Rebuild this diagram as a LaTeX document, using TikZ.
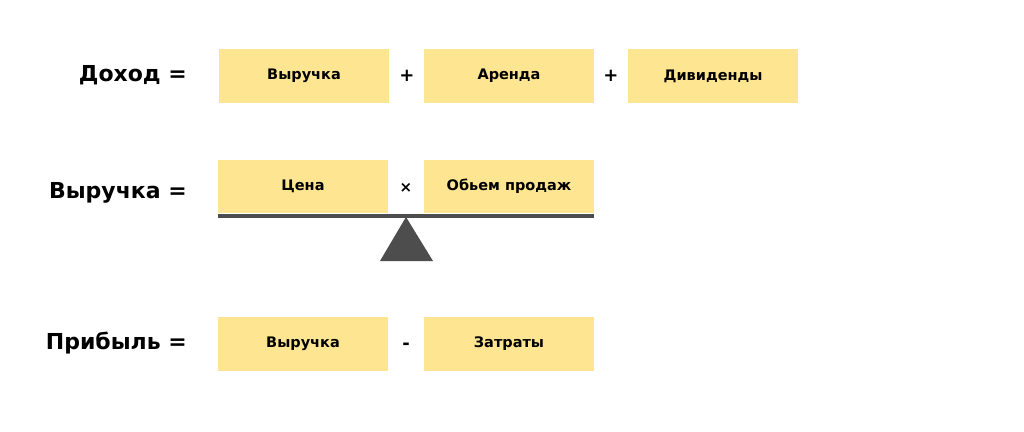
\documentclass[tikz,border=0pt]{standalone}
\usepackage{fontspec}
\setmainfont{DejaVu Sans}
\definecolor{boxyellow}{HTML}{FEE591}
\definecolor{scalegray}{HTML}{4D4D4D}
\tikzset{
    term/.style={fill=boxyellow, minimum width=170pt, minimum height=54pt, inner sep=0, font=\bfseries\fontsize{14.5}{17}\selectfont},
    sign/.style={inner sep=0, font=\bfseries\fontsize{18}{20}\selectfont},
    lhs/.style={anchor=east, inner sep=0, font=\bfseries\fontsize{22}{26}\selectfont}
}
\begin{document}
\begin{tikzpicture}[x=1pt,y=-1pt]
    \useasboundingbox (0,0) rectangle (1024,431);
    % income
    \node[lhs] (income) at (187,75) {Доход =};
    \node[term] (rev1) at (304,76) {Выручка};
    \node[sign] (plus1) at (407,76) {+};
    \node[term] (rent) at (509,76) {Аренда};
    \node[sign] (plus2) at (611,76) {+};
    \node[term] (divs) at (713,76) {Дивиденды};
    % revenue
    \node[lhs] (revenue) at (187,193) {Выручка =};
    \node[term, minimum height=53pt] (price) at (303,186.5) {Цена};
    \node[sign, font=\bfseries\fontsize{15}{17}\selectfont] (times) at (406,188) {×};
    \node[term, minimum height=53pt] (volume) at (509,186.5) {Обьем продаж};
    \coordinate (beamL) at (218,215.5);
    \coordinate (beamR) at (594,215.5);
    \draw[scalegray, line width=4pt] (beamL) -- (beamR);
    \coordinate (pivot) at (406,217);
    \fill[scalegray] (pivot) -- (433,261) -- (380,261) -- cycle;
    % profit
    \node[lhs] (profit) at (187,343) {Прибыль =};
    \node[term] (rev2) at (303,344) {Выручка};
    \node[sign] (minus) at (406,346) {-};
    \node[term] (costs) at (509,344) {Затраты};
\end{tikzpicture}
\end{document}
